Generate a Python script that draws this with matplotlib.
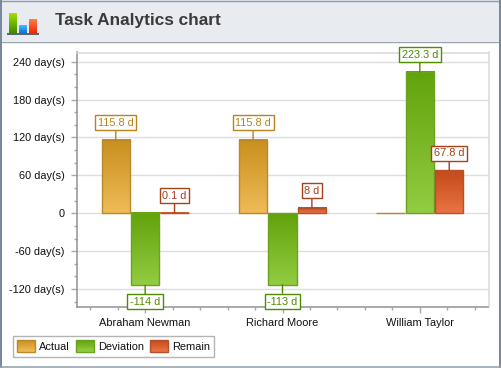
import numpy as np
import matplotlib
matplotlib.use("Agg")
import matplotlib.pyplot as plt
from matplotlib.patches import Rectangle
from matplotlib.path import Path
from matplotlib.legend_handler import HandlerBase
from matplotlib.colors import LinearSegmentedColormap
from matplotlib.ticker import MultipleLocator, FuncFormatter

people = ["Abraham Newman", "Richard Moore", "William Taylor"]
actual = [115.8, 115.8, 0]
deviation = [-114, -113, 223.3]
remain = [0.1, 8, 67.8]
series_names = ["Actual", "Deviation", "Remain"]
y_major = [-120, -60, 0, 60, 120, 180, 240]

top_colors = ["#C98F1E", "#62A30B", "#C44A1A"]
bot_colors = ["#EFBB58", "#92CC42", "#E97344"]
edge_colors = ["#BA8A2A", "#6AA321", "#B5512A"]
label_colors = ["#B5841E", "#4F8C00", "#A8401A"]

W, H = 501, 368
plt.rcParams["font.family"] = ["Liberation Sans", "DejaVu Sans"]
fig = plt.figure(figsize=(W / 100, H / 100), dpi=100, facecolor="white")

# chrome layer in pixel coordinates
bg = fig.add_axes([0, 0, 1, 1], zorder=-1)
bg.set_xlim(0, W); bg.set_ylim(H, 0); bg.axis("off")
bg.add_patch(Rectangle((0, 0), W, 41, fc="#E8EBF0", ec="none"))
bg.plot([0, W], [41.5, 41.5], color="#9AA3AD", lw=1)
bg.plot([0, W], [0.5, 0.5], color="#8C9BAD", lw=1)
bg.plot([0.7, 0.7], [0, H], color="#76869A", lw=1.4)
bg.plot([W - 0.7, W - 0.7], [0, H], color="#76869A", lw=1.4)
bg.plot([0, W], [H - 0.6, H - 0.6], color="#9AA3AD", lw=1.2)


def vgrad(a, x0, y0, x1, y1, c0, c1):
    cm = LinearSegmentedColormap.from_list("g", [c0, c1])
    a.imshow(np.linspace(0, 1, 64)[:, None], cmap=cm, extent=(x0, x1, y1, y0),
             aspect="auto", zorder=3, interpolation="bilinear")


vgrad(bg, 9, 13, 17, 33, "#A6E000", "#3C8C00")
vgrad(bg, 19, 25, 27, 33, "#3CC0FF", "#1070D8")
vgrad(bg, 29, 19, 37, 33, "#FF8040", "#F02808")
bg.add_patch(Rectangle((7, 33), 32, 2.3, fc="#606266", ec="none", zorder=4))
bg.set_xlim(0, W); bg.set_ylim(H, 0)
bg.text(55, 20.5, "Task Analytics chart", fontsize=12.4, fontweight="bold",
        color="#3A3A3A", va="center", ha="left")


def tag_box(x0, y0, w, h, mutation_size):
    """Data-tag outline: 15 px tall, centred on the digits rather than the line box."""
    cy = y0 + h / 2 + 0.4
    xa, xb = x0 - 2.6, x0 + w + 2.6
    ya, yb = cy - 7.5, cy + 7.5
    return Path([(xa, ya), (xb, ya), (xb, yb), (xa, yb), (xa, ya)], closed=True)


# plot
L, R, T, B = 76.5, 488.5, 52.5, 306.5
ax = fig.add_axes([L / W, 1 - B / H, (R - L) / W, (B - T) / H])
ax.patch.set_alpha(0)
x = np.arange(len(people))
series = [actual, deviation, remain]
bar_w, step = 0.205, 0.214

for i, vals in enumerate(series):
    xs = x + (i - 1) * step
    bars = ax.bar(xs, vals, bar_w, facecolor="none", edgecolor=edge_colors[i], lw=1, zorder=4)
    for b, v, xp in zip(bars, vals, xs):
        y0, y1 = max(v, 0), min(v, 0)
        if v == 0:
            continue
        cm = LinearSegmentedColormap.from_list("g", [top_colors[i], bot_colors[i]])
        ax.imshow(np.linspace(0, 1, 64)[:, None], cmap=cm, aspect="auto", zorder=3,
                  extent=(xp - bar_w / 2, xp + bar_w / 2, y1, y0), interpolation="bilinear")
        offs = 12.2 if v >= 0 else -12.2
        ax.annotate(f"{v:g} d", xy=(xp, v), xytext=(0, offs), textcoords="offset points",
                    ha="center", va="center", fontsize=7.9, color=label_colors[i], zorder=6,
                    annotation_clip=False,
                    bbox=dict(boxstyle=tag_box, fc="white", ec=label_colors[i], lw=1),
                    arrowprops=dict(arrowstyle="-", color=label_colors[i], lw=1, shrinkA=0, shrinkB=0))

ax.set_xlim(-0.5, 2.5)
ax.set_ylim(-147.5, 254.4)
ax.set_aspect("auto")
ax.set_yticks(y_major)
ax.yaxis.set_major_formatter(FuncFormatter(lambda v, _: "0" if v == 0 else f"{v:g} day(s)"))
ax.yaxis.set_minor_locator(MultipleLocator(20))
ax.set_xticks(x)
ax.set_xticklabels(people)
ax.xaxis.set_minor_locator(MultipleLocator(0.2))
ax.grid(axis="y", which="major", color="#DEDEDE", lw=1, zorder=1)
ax.set_axisbelow(True)
for s in ("left", "bottom"):
    ax.spines[s].set_color("#929292"); ax.spines[s].set_linewidth(1.1)
for s in ("top", "right"):
    ax.spines[s].set_color("#D8D8D8"); ax.spines[s].set_linewidth(1.1)
ax.tick_params(axis="both", which="major", length=4, width=1, color="#A8A8A8",
               labelsize=7.9, labelcolor="#111111")
ax.tick_params(axis="y", which="major", pad=4.5)
ax.tick_params(axis="x", which="major", pad=4.5)
ax.tick_params(axis="both", which="minor", length=2.2, width=1, color="#A8A8A8")


class GradHandler(HandlerBase):
    def create_artists(self, legend, orig, xd, yd, w, h, fs, trans):
        i = series_names.index(orig.get_label())
        c0 = np.array(matplotlib.colors.to_rgb(top_colors[i]))
        c1 = np.array(matplotlib.colors.to_rgb(bot_colors[i]))
        n = 14
        arts = []
        for k in range(n):
            t = k / (n - 1)
            arts.append(Rectangle((-xd, -yd + h - (k + 1) * h / n), w, h / n + 0.2,
                                  fc=c0 + (c1 - c0) * t, ec="none", transform=trans))
        arts.append(Rectangle((-xd, -yd), w, h, fc="none", ec=edge_colors[i], lw=1, transform=trans))
        return arts


handles = [Rectangle((0, 0), 1, 1, label=n) for n in series_names]
leg = fig.legend(handles=handles, ncols=3, loc="lower left",
                 bbox_to_anchor=(12.5 / W, 1 - 356.5 / H), borderaxespad=0,
                 fontsize=7.9, frameon=True, fancybox=False, framealpha=1,
                 edgecolor="#B4B4B4", handler_map={Rectangle: GradHandler()},
                 handlelength=1.64, handleheight=1.27, handletextpad=0.36, columnspacing=0.55,
                 borderpad=0.42, labelcolor="#111111")
leg.get_frame().set_linewidth(1)

fig.savefig("out.png", dpi=100)
